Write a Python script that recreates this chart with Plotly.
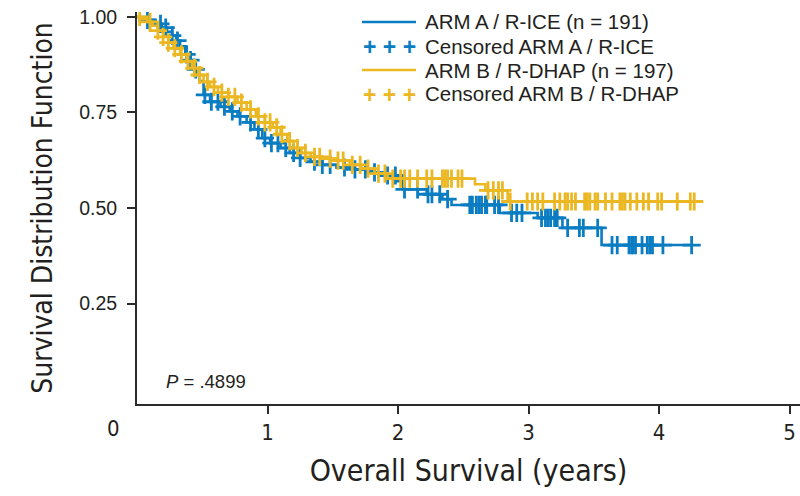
import numpy as np
import plotly.graph_objects as go

# ---------------- data ----------------
# Kaplan-Meier step curves (time in years, survival after step)
arm_a_time = [0.00, 0.08, 0.14, 0.19, 0.23, 0.27, 0.30, 0.33, 0.37, 0.41, 0.44, 0.48, 0.51, 0.56,
              0.64, 0.71, 0.77, 0.84, 0.90, 0.96, 1.02, 1.10, 1.17, 1.25, 1.33, 1.42, 1.53, 1.66,
              1.81, 1.90, 1.99, 2.04, 2.22, 2.34, 2.41, 2.78, 3.07, 3.26, 3.56, 4.26]
arm_a_surv = [1.000, 0.992, 0.982, 0.972, 0.961, 0.951, 0.938, 0.923, 0.902, 0.887, 0.863, 0.832,
              0.796, 0.778, 0.765, 0.753, 0.740, 0.724, 0.706, 0.683, 0.670, 0.657, 0.644, 0.631,
              0.621, 0.613, 0.606, 0.601, 0.593, 0.585, 0.570, 0.549, 0.536, 0.523, 0.508, 0.487,
              0.474, 0.448, 0.403, 0.403]

arm_b_time = [0.00, 0.03, 0.08, 0.12, 0.16, 0.20, 0.24, 0.28, 0.33, 0.38, 0.42, 0.47, 0.51, 0.56,
              0.62, 0.70, 0.77, 0.84, 0.91, 0.98, 1.04, 1.10, 1.15, 1.20, 1.26, 1.33, 1.42, 1.53,
              1.63, 1.72, 1.82, 1.92, 2.59, 2.67, 2.84, 4.29]
arm_b_surv = [1.000, 0.995, 0.987, 0.977, 0.964, 0.948, 0.933, 0.918, 0.902, 0.884, 0.866, 0.848,
              0.830, 0.817, 0.802, 0.791, 0.776, 0.758, 0.740, 0.724, 0.711, 0.693, 0.675, 0.657,
              0.644, 0.634, 0.629, 0.624, 0.613, 0.603, 0.590, 0.577, 0.562, 0.546, 0.517, 0.517]

# censoring times (years)
arm_a_censor = [0.08, 0.18, 0.22, 0.27, 0.31, 0.38, 0.41, 0.45, 0.52, 0.57, 0.62, 0.67, 0.73, 0.79,
                0.87, 0.93, 0.98, 1.03, 1.08, 1.14, 1.20, 1.25, 1.36, 1.42, 1.48, 1.59, 1.67, 1.75,
                1.82, 1.92, 1.98, 2.05, 2.15, 2.23, 2.26, 2.32, 2.38, 2.55, 2.57, 2.60, 2.62, 2.64,
                2.67, 2.68, 2.74, 2.77, 2.87, 2.91, 2.95, 3.10, 3.13, 3.15, 3.17, 3.20, 3.22, 3.30,
                3.39, 3.42, 3.53, 3.64, 3.68, 3.77, 3.79, 3.80, 3.82, 3.87, 3.91, 3.93, 3.95, 4.03,
                4.25]
arm_b_censor = [0.02, 0.10, 0.16, 0.20, 0.24, 0.29, 0.34, 0.39, 0.44, 0.48, 0.54, 0.59, 0.65, 0.70,
                0.75, 0.80, 0.87, 0.93, 0.98, 1.02, 1.07, 1.11, 1.17, 1.23, 1.29, 1.36, 1.40, 1.48,
                1.54, 1.58, 1.65, 1.71, 1.77, 1.85, 1.90, 1.96, 2.02, 2.05, 2.09, 2.15, 2.22, 2.26,
                2.34, 2.36, 2.38, 2.41, 2.46, 2.49, 2.69, 2.73, 2.77, 2.80, 2.86, 2.99, 3.03, 3.07,
                3.11, 3.20, 3.24, 3.28, 3.30, 3.33, 3.36, 3.43, 3.45, 3.47, 3.51, 3.53, 3.59, 3.64,
                3.70, 3.72, 3.74, 3.78, 3.83, 3.88, 3.92, 3.99, 4.02, 4.14, 4.24, 4.27]

x_tick_vals = [1, 2, 3, 4, 5]
y_tick_vals = [0.25, 0.50, 0.75, 1.00]
y_tick_text = ["0.25", "0.50", "0.75", "1.00"]

legend_labels = ["ARM A / R-ICE (n = 191)", "Censored ARM A / R-ICE",
                 "ARM B / R-DHAP (n = 197)", "Censored ARM B / R-DHAP"]
p_value_text = "<i>P</i> = .4899"

# ---------------- style ----------------
BLUE = "#0a7cc2"
YELLOW = "#ebb823"
AXIS = "#2b2b2b"
TEXT = "#231f20"
COND = "Liberation Sans Narrow, DejaVu Sans Condensed, Arial Narrow, sans-serif"
REG = "Liberation Sans, Arial, Helvetica, sans-serif"


def step_value(times, surv, t):
    times = np.asarray(times)
    idx = np.searchsorted(times, t, side="right") - 1
    return [surv[i] for i in idx]


fig = go.Figure()

for tm, sv, cens, col in [(arm_a_time, arm_a_surv, arm_a_censor, BLUE),
                          (arm_b_time, arm_b_surv, arm_b_censor, YELLOW)]:
    fig.add_trace(go.Scatter(x=tm, y=sv, mode="lines", line=dict(color=col, width=2.6, shape="hv"),
                             showlegend=False, hoverinfo="skip"))
    fig.add_trace(go.Scatter(x=cens, y=step_value(tm, sv, cens), mode="markers",
                             marker=dict(symbol="cross-thin", size=13, line=dict(color=col, width=2.8)),
                             showlegend=False, hoverinfo="skip"))

# plot geometry (pixels) used to place the hand-drawn legend
L, T, W, H = 137, 12, 663, 392


def px(x):
    return (x - L) / W


def py(y):
    return (T + H - y) / H


rows_y = [22, 46, 70, 94]
cols = [BLUE, BLUE, YELLOW, YELLOW]
for i, (lab, yy, col) in enumerate(zip(legend_labels, rows_y, cols)):
    if i % 2 == 0:
        fig.add_shape(type="line", xref="paper", yref="paper", x0=px(362), x1=px(416),
                      y0=py(yy), y1=py(yy), line=dict(color=col, width=2.6))
    else:
        fig.add_annotation(xref="paper", yref="paper", x=px(389), y=py(yy + 1), text="<b>+ + +</b>",
                           showarrow=False, xanchor="center", yanchor="middle",
                           font=dict(family=REG, size=23, color=col))
    fig.add_annotation(xref="paper", yref="paper", x=px(423), y=py(yy), text=lab, showarrow=False,
                       xanchor="left", yanchor="middle", font=dict(family=REG, size=20.5, color=TEXT))

fig.add_annotation(xref="paper", yref="paper", x=px(164), y=py(381), text=p_value_text,
                   showarrow=False, xanchor="left", yanchor="middle",
                   font=dict(family=REG, size=18.5, color=TEXT))
fig.add_annotation(xref="paper", yref="paper", x=px(113), y=py(428), text="0",
                   showarrow=False, xanchor="center", yanchor="middle",
                   font=dict(family=COND, size=22, color=TEXT))

fig.update_layout(
    width=800, height=496,
    margin=dict(l=L, r=800 - L - W, t=T, b=496 - T - H),
    paper_bgcolor="white", plot_bgcolor="white",
    xaxis=dict(range=[0, W / 130.5], tickvals=x_tick_vals, ticks="outside", ticklen=8, tickwidth=1.5,
               tickcolor=AXIS, showline=True, linecolor=AXIS, linewidth=2, showgrid=False,
               zeroline=False, tickfont=dict(family=COND, size=22, color=TEXT), ticklabelstandoff=0,
               title=dict(text="Overall Survival (years)", font=dict(family=COND, size=30, color=TEXT),
                          standoff=16)),
    yaxis=dict(range=[1 - (404.5 - T) / 387.5, 1 + (17 - T) / 387.5], tickvals=y_tick_vals,
               ticktext=y_tick_text, ticks="outside", ticklen=8, tickwidth=1.5, tickcolor=AXIS,
               showline=True, linecolor=AXIS, linewidth=2, showgrid=False, zeroline=False,
               ticklabelstandoff=6,
               tickfont=dict(family=REG, size=19.5, color=TEXT),
               title=dict(text="Survival Distribution Function", font=dict(family=COND, size=28, color=TEXT),
                          standoff=18)),
)

fig.write_html("out.html")
